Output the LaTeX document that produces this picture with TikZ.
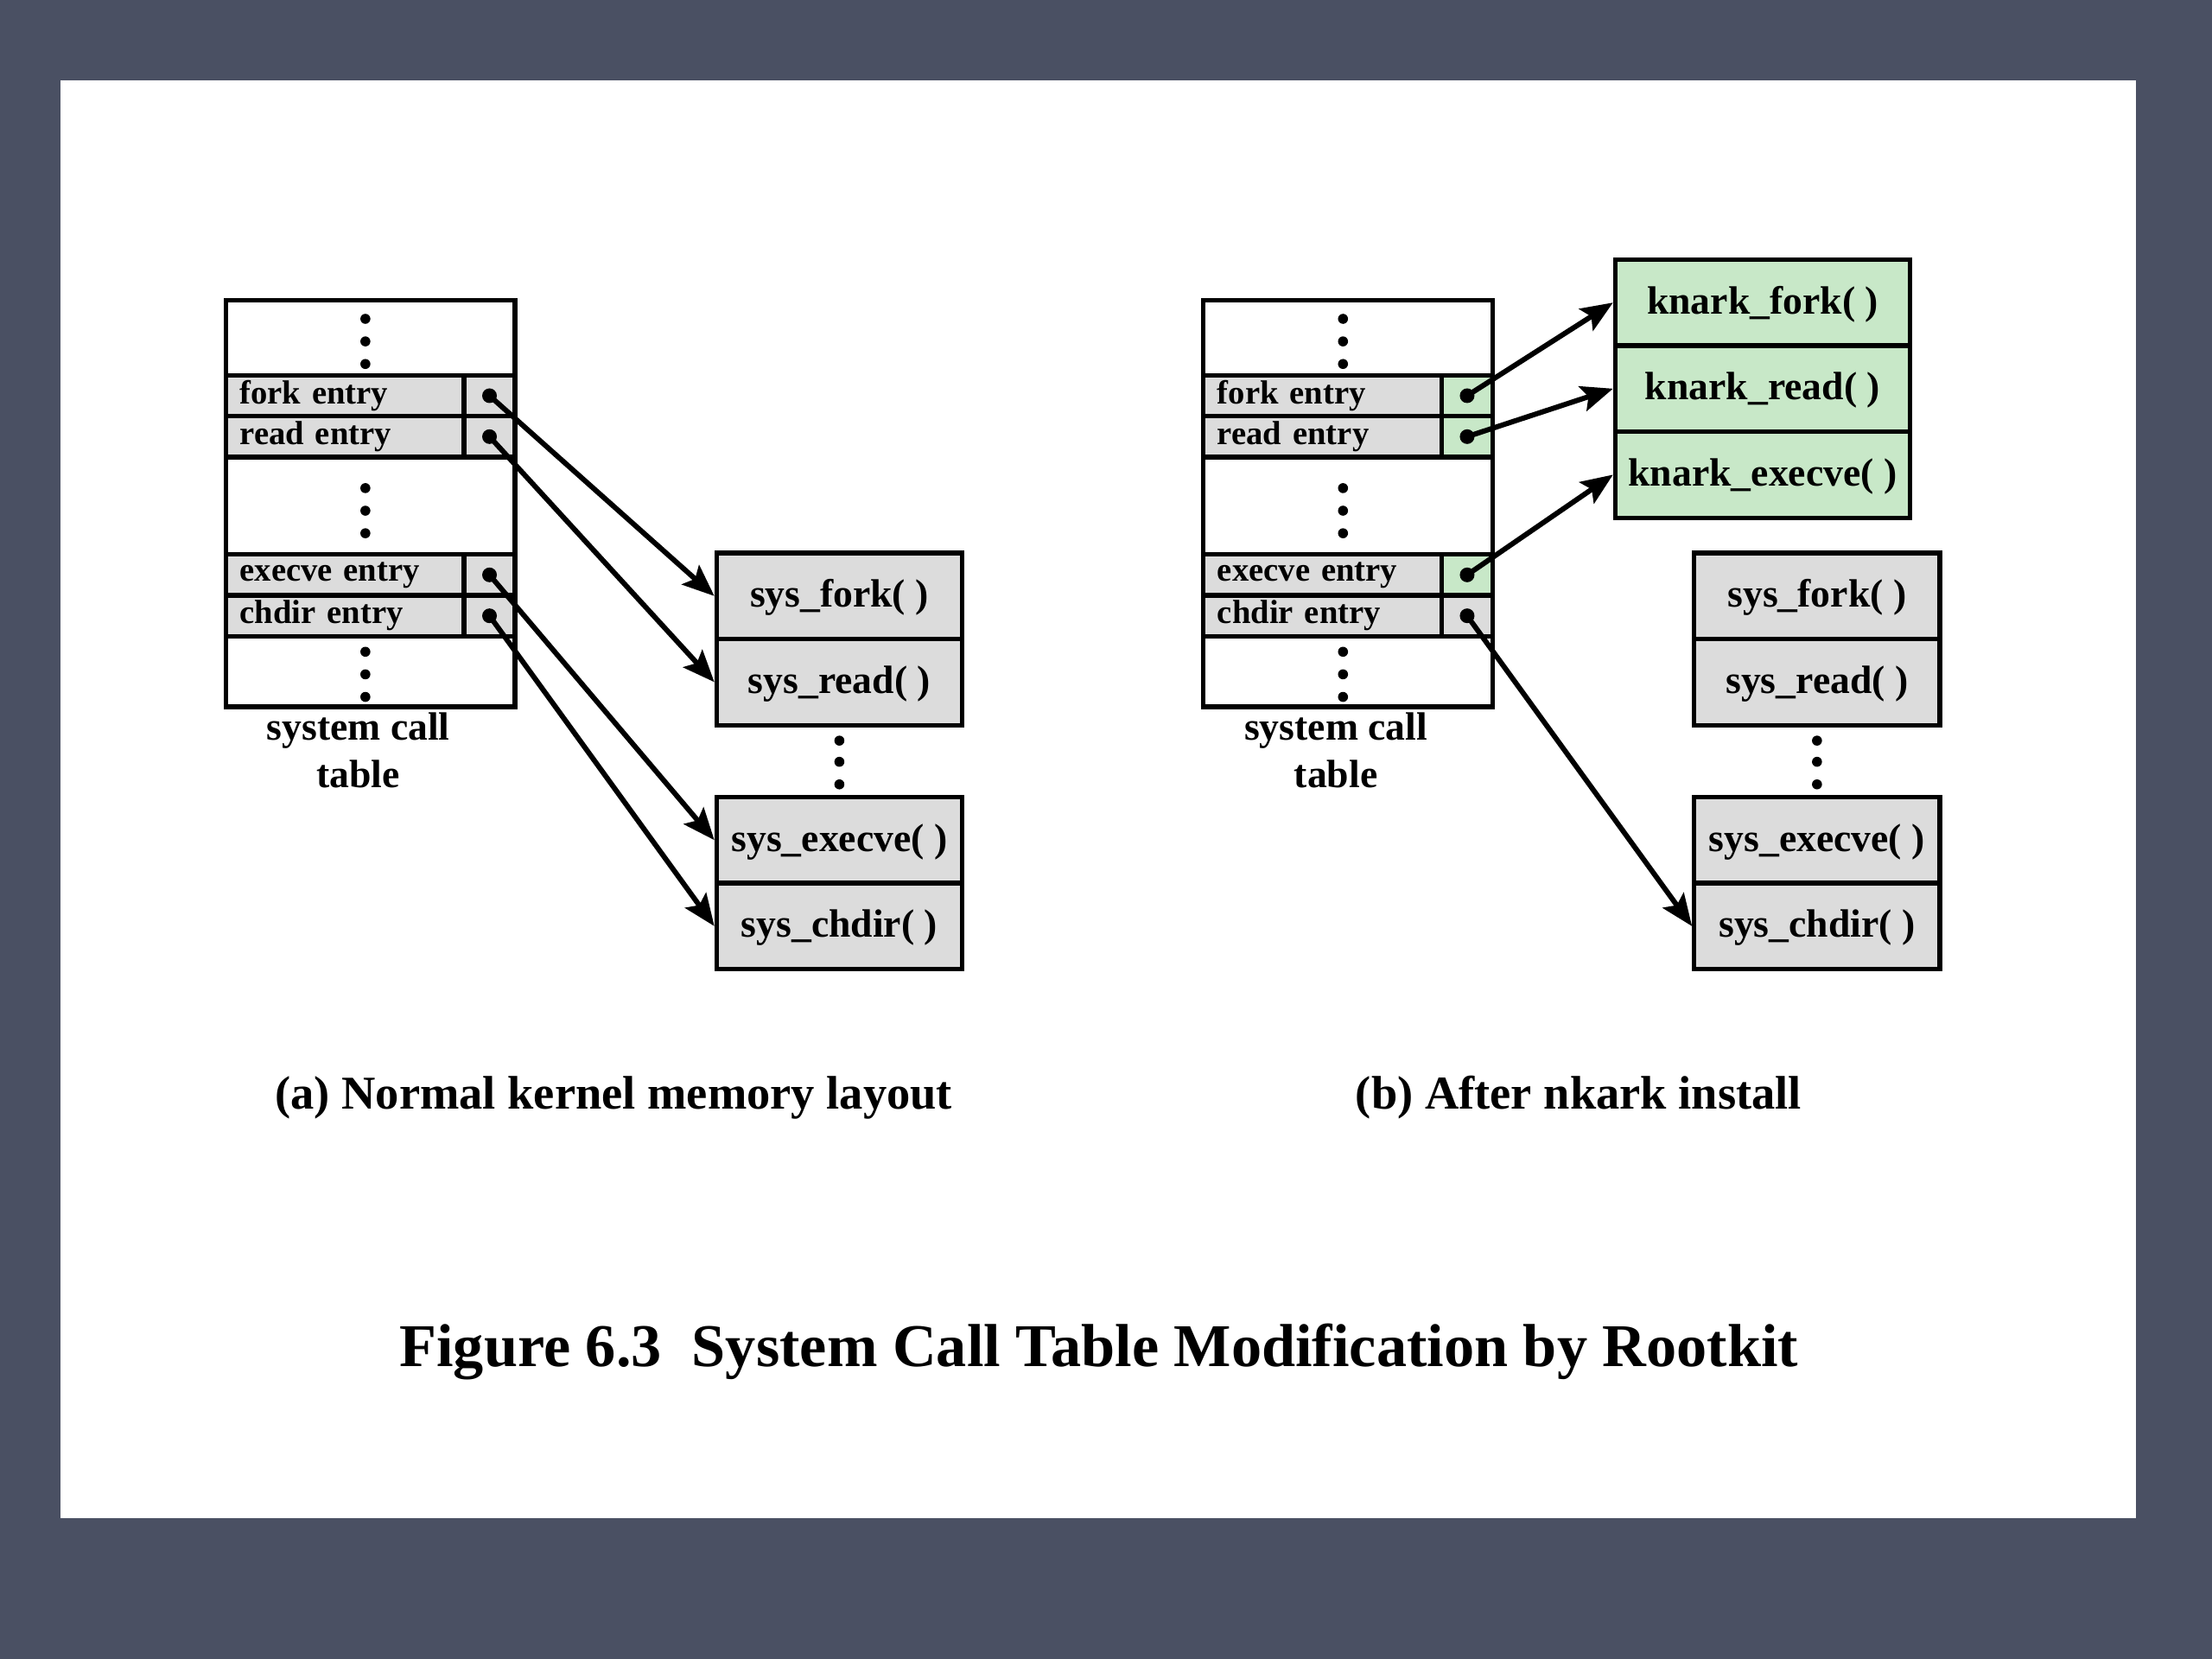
\documentclass[tikz,border=0pt]{standalone}
\usepackage{fontspec}
\setmainfont{Liberation Serif}
\usetikzlibrary{arrows.meta}
\definecolor{slate}{RGB}{74,80,99}
\definecolor{cellgray}{RGB}{220,220,220}
\definecolor{knarkgreen}{RGB}{200,232,200}
\tikzset{
  tbl/.style={draw, fill=white, line width=1.5pt, minimum width=3.347cm, minimum height=4.702cm, inner sep=0},
  entry/.style={draw, fill=cellgray, line width=1.5pt, minimum height=0.4735cm, text width=2.433cm, inner xsep=0.163cm, inner ysep=0, align=left, font=\fontsize{11}{13}\selectfont\bfseries},
  ptr/.style={draw, fill=cellgray, line width=1.5pt, minimum width=0.588cm, minimum height=0.4735cm, inner sep=0},
  hooked/.style={ptr, fill=knarkgreen},
  func/.style={draw, fill=cellgray, line width=1.5pt, minimum width=2.841cm, minimum height=0.996cm, inner sep=0, text height=0.8em, text depth=0.07em, font=\fontsize{13}{15}\selectfont\bfseries},
  knark/.style={func, fill=knarkgreen, minimum width=3.412cm},
  link/.style={line width=1.7pt, -{Stealth[length=10.5pt,width=8.5pt,inset=2pt]}},
  caption/.style={font=\fontsize{15.5}{18}\selectfont\bfseries},
}
\begin{document}
\begin{tikzpicture}[x=0.016327cm, y=-0.016327cm]
      \fill[slate] (0,0) rectangle (1568,1176);
      \fill[white] (43,57) rectangle (1514,1076);
      % (a) normal layout
      \draw
        (262.5,357) node[tbl] (ltab){}
        (244.5,280.5) node[entry] (lforkname){fork entry}
        (347,280.5) node[ptr] (lforkptr){}
        (244.5,309.5) node[entry] (lreadname){read entry}
        (347,309.5) node[ptr] (lreadptr){}
        (244.5,407.5) node[entry] (lexecname){execve entry}
        (347,407.5) node[ptr] (lexecptr){}
        (244.5,436.5) node[entry] (lchdirname){chdir entry}
        (347,436.5) node[ptr] (lchdirptr){}
        (254,532) node[align=center, font=\fontsize{13}{15.5}\selectfont\bfseries] (llabel){system call\\table}
        (595,422.5) node[func] (lsysfork){sys\_fork( )}
        (595,483.5) node[func] (lsysread){sys\_read( )}
        (595,595.5) node[func] (lsysexec){sys\_execve( )}
        (595,656.5) node[func] (lsyschdir){sys\_chdir( )}
        (435,778) node[caption] (lcaption){(a) Normal kernel memory layout};
      % (b) after install
      \draw
        (955.5,357) node[tbl] (rtab){}
        (937.5,280.5) node[entry] (rforkname){fork entry}
        (1040,280.5) node[hooked] (rforkptr){}
        (937.5,309.5) node[entry] (rreadname){read entry}
        (1040,309.5) node[hooked] (rreadptr){}
        (937.5,407.5) node[entry] (rexecname){execve entry}
        (1040,407.5) node[hooked] (rexecptr){}
        (937.5,436.5) node[entry] (rchdirname){chdir entry}
        (1040,436.5) node[ptr] (rchdirptr){}
        (947,532) node[align=center, font=\fontsize{13}{15.5}\selectfont\bfseries] (rlabel){system call\\table}
        (1249.5,214.5) node[knark] (knfork){knark\_fork( )}
        (1249.5,275.5) node[knark] (knread){knark\_read( )}
        (1249.5,336.5) node[knark] (knexec){knark\_execve( )}
        (1288,422.5) node[func] (rsysfork){sys\_fork( )}
        (1288,483.5) node[func] (rsysread){sys\_read( )}
        (1288,595.5) node[func] (rsysexec){sys\_execve( )}
        (1288,656.5) node[func] (rsyschdir){sys\_chdir( )}
        (1119,778) node[caption] (rcaption){(b) After nkark install};
      \node[font=\fontsize{20}{24}\selectfont\bfseries] (title) at (779,958) {Figure 6.3\ \ System Call Table Modification by Rootkit};
      % vertical dots
      \foreach \x in {259,952}
        \foreach \y in {226,242,258,346,362,378,462,478,494}
          \fill (\x,\y) circle (0.058cm);
      \foreach \x in {595,1288}
        \foreach \y in {525,540,556}
          \fill (\x,\y) circle (0.058cm);
      % pointer dots
      \foreach \p in {lforkptr,lreadptr,lexecptr,lchdirptr,rforkptr,rreadptr,rexecptr,rchdirptr}
        \fill (\p.center) circle (0.085cm);
      \begin{scope}[link]
        \draw (lforkptr.center) to (lsysfork.west);
        \draw (lreadptr.center) to (lsysread.west);
        \draw (lexecptr.center) to (lsysexec.west);
        \draw (lchdirptr.center) to (lsyschdir.west);
        \draw (rforkptr.center) to (knfork.west);
        \draw (rreadptr.center) to (knread.west);
        \draw (rexecptr.center) to (knexec.west);
        \draw (rchdirptr.center) to (rsyschdir.west);
      \end{scope}
    \end{tikzpicture}
\end{document}
